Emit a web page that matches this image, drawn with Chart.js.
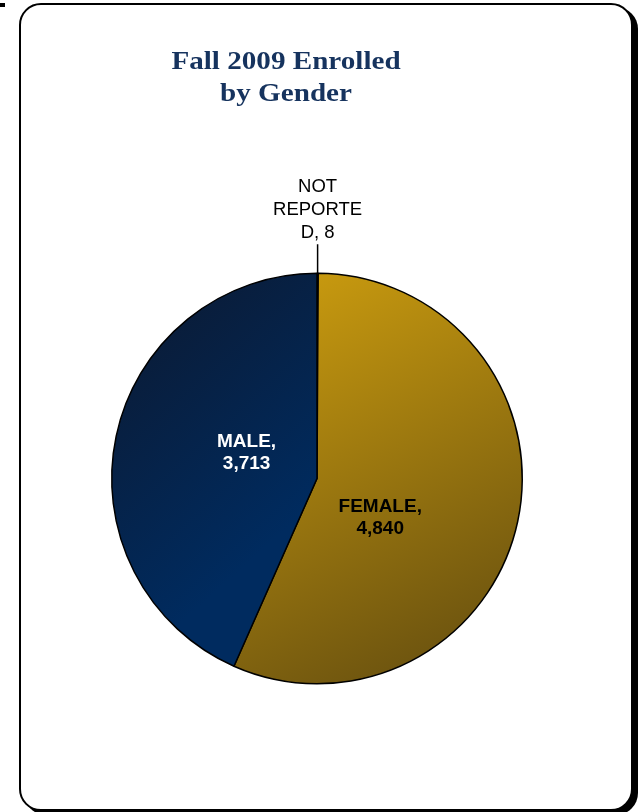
<!DOCTYPE html>
<html>
<head>
<meta charset="utf-8">
<script src="https://cdn.jsdelivr.net/npm/chart.js@4.4.1/dist/chart.umd.min.js"></script>
<style>
  html, body { margin: 0; padding: 0; background: #fff; }
  body { width: 643px; height: 812px; position: relative; overflow: hidden; }
  #frame {
    position: absolute; left: 19px; top: 3px; width: 614px; height: 808px;
    box-sizing: border-box; border: 2px solid #000; border-radius: 22px;
    box-shadow: 5px 4px 0 #000; background: #fff;
  }
  #tick { position: absolute; left: 0; top: 3px; width: 5px; height: 4px; background: #000; }
  #wrap { position: absolute; left: 0; top: 0; width: 643px; height: 812px; }
</style>
</head>
<body>
<div id="tick"></div>
<div id="frame"></div>
<div id="wrap"><canvas id="canvas" width="643" height="812"></canvas></div>
<script>
// data
const categories = ["NOT REPORTED", "FEMALE", "MALE"];
const enrolled = [8, 4840, 3713];
const labelLines = [["NOT", "REPORTE", "D, 8"], ["FEMALE,", "4,840"], ["MALE,", "3,713"]];
const titleLines = ["Fall 2009 Enrolled", "by Gender"];

// where each data label sits, as a fraction of the radius from the centre
const labelPlace = [
  { callout: true, color: "#000" },
  { dx: 0.308, dy: 0.192, color: "#000" },
  { dx: -0.343, dy: -0.124, color: "#fff" },
];

function sliceFill(context) {
  const chart = context.chart;
  const a = chart.chartArea;
  if (!a) return "#999";
  const c = chart.ctx;
  let g;
  if (context.dataIndex === 1) {
    g = c.createLinearGradient(a.left + a.width / 2, a.top, a.right, a.bottom);
    g.addColorStop(0, "#c7990f");
    g.addColorStop(1, "#604a0f");
  } else if (context.dataIndex === 2) {
    g = c.createLinearGradient(a.left, a.top + a.height * 0.1, a.left + a.width * 0.45, a.top + a.height * 0.6);
    g.addColorStop(0, "#0b1a33");
    g.addColorStop(1, "#002b5f");
  } else {
    return "#7f7f7f";
  }
  return g;
}

const titlePlugin = {
  id: "titleText",
  afterDraw(chart) {
    const c = chart.ctx;
    c.save();
    c.fillStyle = "#16335e";
    c.font = "bold 26px 'Liberation Serif', serif";
    c.textAlign = "center";
    c.textBaseline = "alphabetic";
    c.translate(286, 0);
    c.scale(1.12, 1);
    c.fillText(titleLines[0], 0, 69);
    c.fillText(titleLines[1], 0, 101);
    c.restore();
  },
};

const sliceLabels = {
  id: "sliceLabels",
  afterDatasetsDraw(chart) {
    const c = chart.ctx;
    const meta = chart.getDatasetMeta(0);
    c.save();
    c.textAlign = "center";
    c.textBaseline = "middle";
    meta.data.forEach((arc, i) => {
      const p = arc.getProps(["x", "y", "startAngle", "endAngle", "outerRadius"], true);
      const place = labelPlace[i];
      const lines = labelLines[i];
      c.fillStyle = place.color;
      if (place.callout) {
        const mid = (p.startAngle + p.endAngle) / 2;
        const ex = p.x + Math.cos(mid) * p.outerRadius;
        const ey = p.y + Math.sin(mid) * p.outerRadius;
        c.strokeStyle = "#000";
        c.lineWidth = 1.5;
        c.beginPath();
        c.moveTo(ex, ey);
        c.lineTo(ex, ey - 29);
        c.stroke();
        c.font = "18.5px 'Liberation Sans', Arial, sans-serif";
        lines.forEach((t, k) => {
          const ly = ey - 40.5 - (lines.length - 1 - k) * 23;
          c.fillText(t, ex, ly);
        });
      } else {
        const cx = p.x + place.dx * p.outerRadius;
        const cy = p.y + place.dy * p.outerRadius;
        c.font = "bold 19px 'Liberation Sans', Arial, sans-serif";
        lines.forEach((t, k) => {
          c.fillText(t, cx, cy + (k - (lines.length - 1) / 2) * 22);
        });
      }
    });
    c.restore();
  },
};

new Chart(document.getElementById("canvas").getContext("2d"), {
  type: "pie",
  data: {
    labels: categories,
    datasets: [{
      data: enrolled,
      backgroundColor: sliceFill,
      borderColor: "#000",
      borderWidth: 1.5,
    }],
  },
  options: {
    responsive: false,
    animation: false,
    layout: { padding: { left: 111, right: 120, top: 272, bottom: 127 } },
    plugins: {
      legend: { display: false },
      title: { display: false },
      tooltip: { enabled: false },
    },
  },
  plugins: [titlePlugin, sliceLabels],
});
</script>
</body>
</html>
